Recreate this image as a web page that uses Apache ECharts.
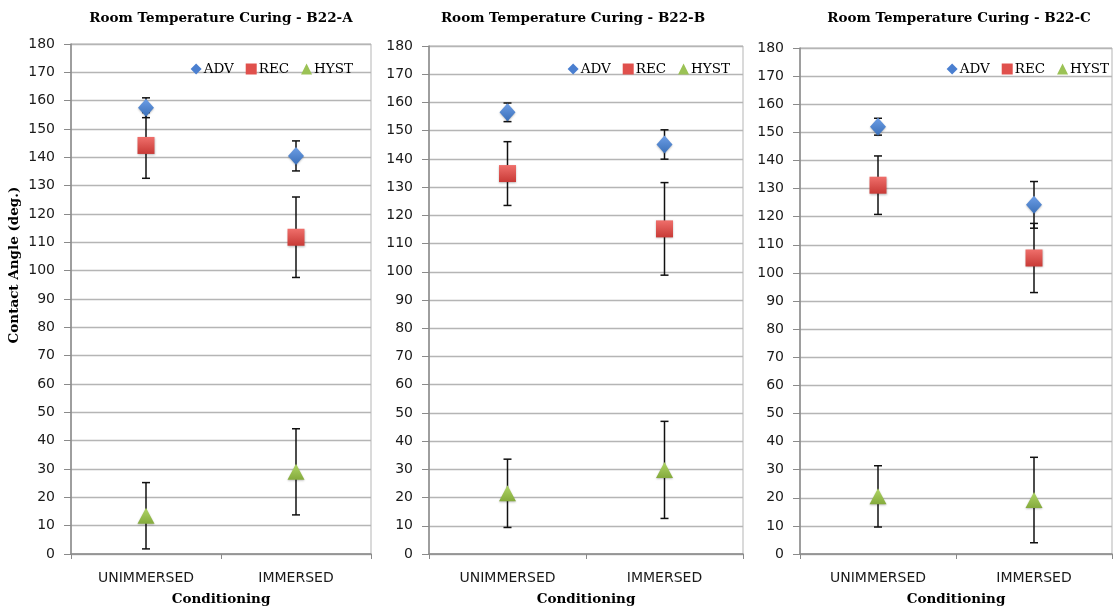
<!DOCTYPE html>
<html><head><meta charset="utf-8">
<script src="https://cdn.jsdelivr.net/npm/echarts@6/dist/echarts.min.js"></script>
<style>html,body{margin:0;padding:0;background:#fff}#c{width:1114px;height:611px}</style>
</head><body><div id="c"></div>
<script>
const categories = ['UNIMMERSED', 'IMMERSED'];
const panelTitles = ['Room Temperature Curing - B22-A', 'Room Temperature Curing - B22-B', 'Room Temperature Curing - B22-C'];
const yTicks = [0, 180, 10];
const seriesNames = ['ADV', 'REC', 'HYST'];

const advA = [157.5, 140.5], advErrA = [3.5, 5.3];
const recA = [144.2, 111.8], recErrA = [11.6, 14.2];
const hystA = [13.5, 29.0], hystErrA = [11.7, 15.2];

const advB = [156.5, 145.1], advErrB = [3.3, 5.2];
const recB = [134.8, 115.2], recErrB = [11.3, 16.4];
const hystB = [21.5, 29.8], hystErrB = [12.1, 17.2];

const advC = [152.0, 124.2], advErrC = [3.0, 8.3];
const recC = [131.2, 105.3], recErrC = [10.4, 12.3];
const hystC = [20.5, 19.2], hystErrC = [10.9, 15.2];

const panels = [
  {vals: [advA, recA, hystA], errs: [advErrA, recErrA, hystErrA]},
  {vals: [advB, recB, hystB], errs: [advErrB, recErrB, hystErrB]},
  {vals: [advC, recC, hystC], errs: [advErrC, recErrC, hystErrC]}
];

const grids = [
  {left: 71, width: 300, top: 44, bottom: 54},
  {left: 429, width: 314, top: 46, bottom: 54},
  {left: 800, width: 312, top: 48, bottom: 54}
];
const titleX = [216, 568, 954];
const legendRight = [756, 379, 0];

const symbols = ['diamond', 'rect', 'triangle'];
const symbolSizes = [[16, 18], [17, 17], [17, 16]];
function grad(a, b) {
  return new echarts.graphic.LinearGradient(0, 0, 0, 1, [{offset: 0, color: a}, {offset: 1, color: b}]);
}
const fills = [grad('#6d9ee6', '#3a6fb8'), grad('#ef6f6b', '#c83a36'), grad('#b0d666', '#84aa3c')];
const legendColors = ['#4a7fd0', '#e0504c', '#9bc255'];

const sansFont = 'DejaVu Sans';
const serifFont = 'DejaVu Serif';

const option = {
  animation: false,
  backgroundColor: '#fff',
  title: panelTitles.map((t, i) => ({
    text: t, left: titleX[i], top: 6, textAlign: 'center',
    textStyle: {fontFamily: serifFont, fontWeight: 'bold', fontSize: 13.5, color: '#000'}
  })),
  legend: panels.map((p, i) => ({
    data: seriesNames.map((n, k) => ({name: n, icon: symbols[k], itemStyle: {color: legendColors[k]}})),
    right: legendRight[i], top: 57, orient: 'horizontal',
    itemWidth: 11, itemHeight: 11, itemGap: 12,
    textStyle: {fontFamily: serifFont, fontSize: 13.5, color: '#000', padding: [0, 0, 0, -3]},
    selectedMode: false
  })),
  grid: grids.map(g => Object.assign({show: true, borderColor: '#b5b5b5', borderWidth: 1, backgroundColor: 'transparent'}, g)),
  xAxis: grids.map((g, i) => ({
    type: 'category', gridIndex: i, data: categories,
    name: 'Conditioning', nameLocation: 'middle', nameGap: 38,
    nameTextStyle: {fontFamily: serifFont, fontWeight: 'bold', fontSize: 13.5, color: '#000'},
    axisLine: {lineStyle: {color: '#8a8a8a', width: 1.5}},
    axisTick: {show: true, length: 5, lineStyle: {color: '#8a8a8a'}},
    axisLabel: {fontFamily: sansFont, fontSize: 14, color: '#1a1a1a', margin: 17},
    splitLine: {show: false}
  })),
  yAxis: grids.map((g, i) => ({
    type: 'value', gridIndex: i, min: yTicks[0], max: yTicks[1], interval: yTicks[2],
    axisLine: {show: true, lineStyle: {color: '#8a8a8a', width: 1.5}},
    axisTick: {show: true, length: 7, lineStyle: {color: '#8a8a8a'}},
    axisLabel: {fontFamily: sansFont, fontSize: 14, color: '#1a1a1a', margin: 16},
    splitLine: {show: true, lineStyle: {color: '#b5b5b5', width: 1.3}}
  })),
  graphic: [{
    type: 'text', x: 14, y: 265, rotation: Math.PI / 2,
    style: {text: 'Contact Angle (deg.)', font: 'bold 13.5px "DejaVu Serif"', fill: '#000', textAlign: 'center', textVerticalAlign: 'middle'}
  }],
  series: []
};

panels.forEach((p, i) => {
  seriesNames.forEach((n, k) => {
    const lows = p.vals[k].map((v, j) => [j, v - p.errs[k][j], v + p.errs[k][j]]);
    option.series.push({
      type: 'custom', xAxisIndex: i, yAxisIndex: i, z: 3, silent: true,
      data: lows,
      renderItem: function (params, api) {
        const x = api.value(0);
        const lo = api.coord([x, api.value(1)]);
        const hi = api.coord([x, api.value(2)]);
        const cw = 4;
        const st = {stroke: '#111', lineWidth: 1.5};
        return {type: 'group', children: [
          {type: 'line', shape: {x1: lo[0], y1: lo[1], x2: hi[0], y2: hi[1]}, style: st},
          {type: 'line', shape: {x1: lo[0] - cw, y1: lo[1], x2: lo[0] + cw, y2: lo[1]}, style: st},
          {type: 'line', shape: {x1: hi[0] - cw, y1: hi[1], x2: hi[0] + cw, y2: hi[1]}, style: st}
        ]};
      }
    });
  });
  seriesNames.forEach((n, k) => {
    option.series.push({
      type: 'scatter', name: n, xAxisIndex: i, yAxisIndex: i, z: 5,
      data: p.vals[k],
      symbol: symbols[k], symbolSize: symbolSizes[k],
      itemStyle: {color: fills[k], opacity: 1, shadowBlur: 2, shadowColor: 'rgba(0,0,0,0.25)', shadowOffsetY: 1}
    });
  });
});

const chart = echarts.init(document.getElementById('c'));
chart.setOption(option);
</script>
</body></html>
